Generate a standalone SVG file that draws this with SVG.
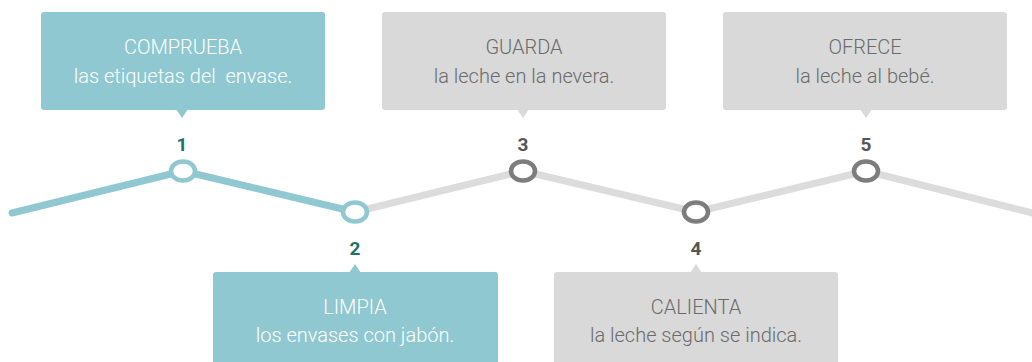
<svg xmlns="http://www.w3.org/2000/svg" width="1032" height="362" viewBox="0 0 1032 362">
<style>
.bt{fill:#8fc8d1}
.bg{fill:#d9d9d9}
.tw{fill:#ffffff;font-family:Roboto,"Liberation Sans",sans-serif;font-weight:300;font-size:20px;text-anchor:middle}
.tg{fill:#6b6b6b;font-family:Roboto,"Liberation Sans",sans-serif;font-weight:300;font-size:20px;text-anchor:middle}
.nt{fill:#1f7268;font-family:Roboto,"Liberation Sans",sans-serif;font-weight:700;font-size:19px;text-anchor:middle}
.ng{fill:#555555;font-family:Roboto,"Liberation Sans",sans-serif;font-weight:700;font-size:19px;text-anchor:middle}
.ct{fill:#ffffff;stroke:#8fc8d1;stroke-width:4.5}
.cg{fill:#ffffff;stroke:#7d7d7d;stroke-width:4.5}
</style>
<g id="connectors">
<polyline points="355,212 523,171 696,212 866,171 1040,215" fill="none" stroke="#dcdcdc" stroke-width="7" stroke-linejoin="round"/>
<polyline points="12,213 183,171 355,212" fill="none" stroke="#8fc8d1" stroke-width="7" stroke-linecap="round" stroke-linejoin="round"/>
</g>
<g id="step1">
<rect class="bt" x="41" y="12" width="284" height="98" rx="3"/>
<polygon class="bt" points="176,109 182,118 188,109"/>
<text class="tw" x="183" y="54">COMPRUEBA</text>
<text class="tw" x="183" y="83" xml:space="preserve">las etiquetas del  envase.</text>
<text class="nt" x="182" y="151">1</text>
<ellipse class="ct" cx="183" cy="171" rx="12" ry="9.5"/>
</g>
<g id="step2">
<ellipse class="ct" cx="355" cy="212" rx="12" ry="9.5"/>
<text class="nt" x="355" y="255">2</text>
<rect class="bt" x="213" y="272" width="285" height="100" rx="3"/>
<polygon class="bt" points="349,273 355,264 361,273"/>
<text class="tw" x="355" y="314">LIMPIA</text>
<text class="tw" x="355" y="342">los envases con jabón.</text>
</g>
<g id="step3">
<rect class="bg" x="382" y="12" width="284" height="98" rx="3"/>
<polygon class="bg" points="517,109 523,118 529,109"/>
<text class="tg" x="524" y="54">GUARDA</text>
<text class="tg" x="524" y="83">la leche en la nevera.</text>
<text class="ng" x="523" y="151">3</text>
<ellipse class="cg" cx="523" cy="171" rx="12" ry="9.5"/>
</g>
<g id="step4">
<ellipse class="cg" cx="696" cy="212" rx="12" ry="9.5"/>
<text class="ng" x="696" y="255">4</text>
<rect class="bg" x="554" y="272" width="284" height="100" rx="3"/>
<polygon class="bg" points="690,273 696,264 702,273"/>
<text class="tg" x="696" y="314">CALIENTA</text>
<text class="tg" x="696" y="342">la leche según se indica.</text>
</g>
<g id="step5">
<rect class="bg" x="723" y="12" width="284" height="98" rx="3"/>
<polygon class="bg" points="860,109 866,118 872,109"/>
<text class="tg" x="865" y="54">OFRECE</text>
<text class="tg" x="865" y="83">la leche al bebé.</text>
<text class="ng" x="866" y="151">5</text>
<ellipse class="cg" cx="866" cy="171" rx="12" ry="9.5"/>
</g>
</svg>
